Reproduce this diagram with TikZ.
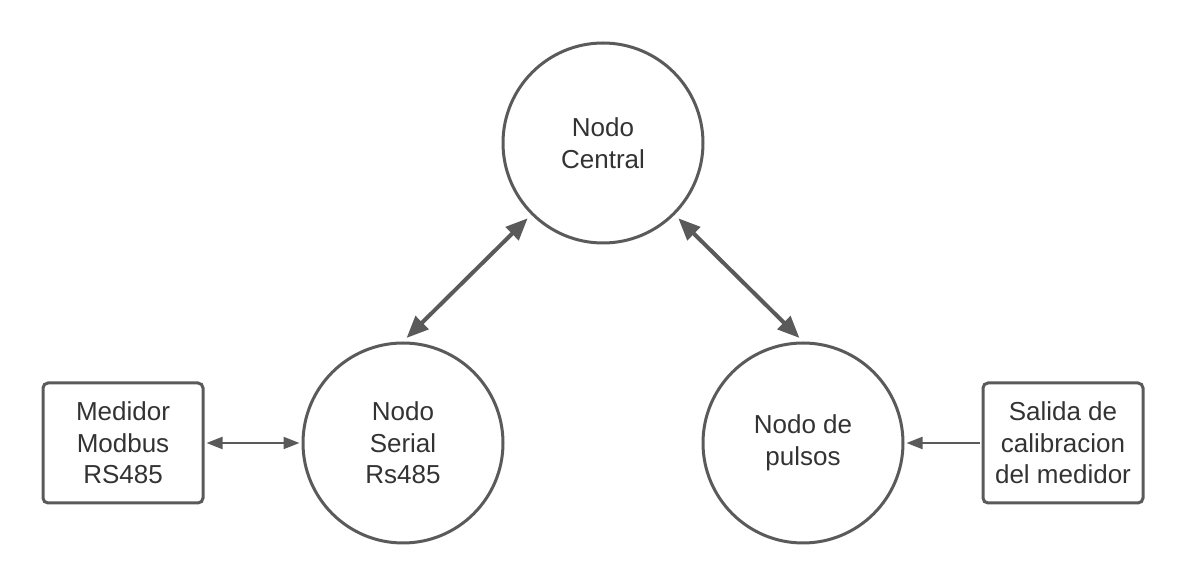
\documentclass[tikz,border=0pt]{standalone}
\usepackage{fontspec}
\setmainfont{Liberation Sans}
\usetikzlibrary{arrows.meta}

\definecolor{linegray}{HTML}{5A5A5A}
\definecolor{textgray}{HTML}{333333}

\tikzset{
  nodo/.style={circle, draw=linegray, line width=1.5pt, minimum size=100pt,
    inner sep=0pt, align=center, text=textgray, font=\fontsize{13}{15.8}\selectfont},
  caja/.style={rectangle, rounded corners=2.5pt, draw=linegray, line width=1.5pt,
    minimum width=80pt, minimum height=60pt, inner sep=0pt, align=center,
    text=textgray, font=\fontsize{13}{15.8}\selectfont},
  enlace/.style={draw=linegray, line width=2pt, shorten <=2.5pt, shorten >=2.5pt,
    {Triangle[length=11pt,width=9pt]}-{Triangle[length=11pt,width=9pt]}},
  senal/.style={draw=linegray, line width=1pt, shorten <=1pt, shorten >=1pt}
}

\begin{document}
\begin{tikzpicture}[x=0.5pt,y=-0.5pt]
            \useasboundingbox (0,0) rectangle (1191,582);

            % nodos
            \node[nodo] (central) at (603,143) {Nodo\\Central};
            \node[nodo] (serial) at (403,443) {Nodo\\Serial\\Rs485};
            \node[nodo] (pulsos) at (803,443) {Nodo de\\pulsos};

            % equipos
            \node[caja] (medidor) at (123,443) {Medidor\\Modbus\\RS485};
            \node[caja] (salida) at (1063,443) {Salida de\\calibracion\\del medidor};

            % enlaces
            \draw[enlace] (serial.north) -- (central.225);
            \draw[enlace] (central.-45) -- (pulsos.north);
            \draw[senal, {Triangle[length=8pt,width=6pt]}-{Triangle[length=8pt,width=6pt]}] (medidor.east) -- (serial.west);
            \draw[senal, -{Triangle[length=8pt,width=6pt]}] (salida.west) -- (pulsos.east);
\end{tikzpicture}
\end{document}
